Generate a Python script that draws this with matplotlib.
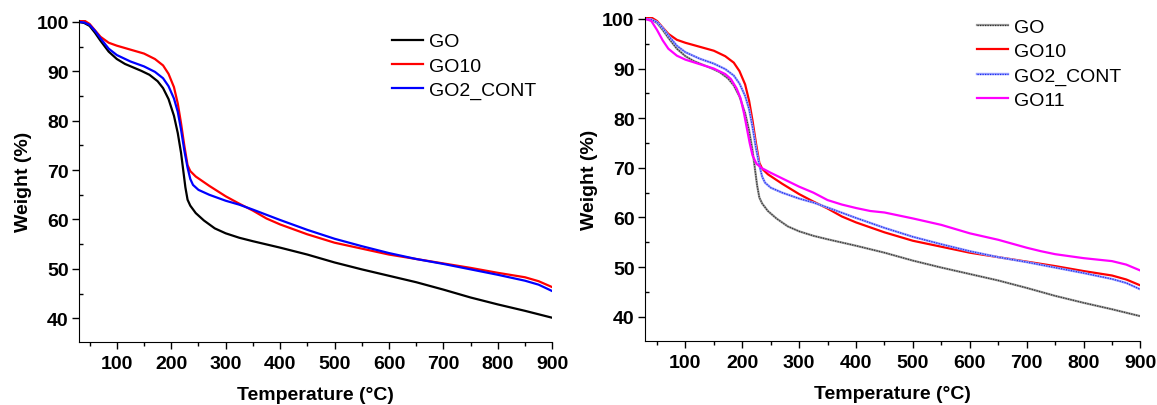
import matplotlib
matplotlib.use("Agg")
import matplotlib.pyplot as plt
from matplotlib.ticker import MultipleLocator, FixedLocator
from matplotlib.legend_handler import HandlerTuple

plt.rcParams['font.family'] = ['Liberation Sans', 'DejaVu Sans']

# ---- data ----
go_T = [30, 40, 50, 60, 70, 85, 100, 115, 130, 145, 160, 175, 185, 195, 205, 212, 218, 222, 226, 230, 235, 245, 260, 280, 300, 325, 350, 400, 450, 500, 550, 600, 650, 700, 750, 800, 850, 900]
go_W = [100, 99.8, 99.2, 97.8, 96.2, 94.0, 92.5, 91.5, 90.8, 90.1, 89.3, 88.0, 86.6, 84.4, 81.0, 77.5, 73.5, 70.0, 66.5, 64.0, 62.8, 61.3, 59.8, 58.2, 57.2, 56.3, 55.6, 54.3, 52.9, 51.3, 49.9, 48.6, 47.3, 45.8, 44.2, 42.8, 41.5, 40.1]

go10_T = [30, 40, 50, 60, 70, 85, 100, 125, 150, 170, 185, 195, 205, 212, 218, 224, 230, 235, 245, 270, 300, 325, 350, 375, 400, 450, 500, 550, 600, 650, 700, 750, 800, 850, 875, 900]
go10_W = [100.3, 100.3, 99.6, 98.3, 97.0, 95.8, 95.2, 94.4, 93.6, 92.5, 91.2, 89.5, 86.8, 83.5, 79.5, 75.0, 71.0, 69.8, 68.7, 66.8, 64.7, 63.2, 61.8, 60.2, 59.0, 57.0, 55.3, 54.1, 52.9, 52.0, 51.1, 50.2, 49.2, 48.3, 47.5, 46.3]

go2_T = [30, 40, 50, 60, 70, 85, 100, 125, 150, 170, 185, 195, 205, 212, 218, 224, 230, 235, 240, 250, 270, 300, 325, 350, 400, 450, 500, 550, 600, 650, 700, 750, 800, 850, 875, 900]
go2_W = [100, 99.9, 99.4, 98.2, 96.7, 94.6, 93.3, 92.0, 91.0, 89.9, 88.6, 87.0, 84.5, 81.8, 78.2, 74.0, 70.5, 68.2, 67.0, 66.0, 65.0, 63.8, 63.0, 62.0, 59.9, 57.9, 56.1, 54.6, 53.2, 52.0, 51.0, 49.9, 48.8, 47.6, 46.8, 45.5]

go11_T = [30, 40, 50, 60, 70, 85, 100, 125, 150, 170, 180, 190, 197, 203, 208, 213, 218, 225, 235, 250, 275, 300, 325, 350, 375, 400, 425, 450, 500, 550, 600, 650, 700, 725, 750, 800, 850, 875, 900]
go11_W = [100, 99.6, 97.8, 95.7, 94.0, 92.6, 91.8, 90.9, 90.0, 88.9, 87.9, 86.0, 84.0, 81.0, 78.0, 75.0, 72.5, 70.8, 69.9, 69.0, 67.6, 66.2, 65.0, 63.5, 62.6, 61.9, 61.3, 61.0, 59.8, 58.5, 56.8, 55.5, 53.9, 53.2, 52.6, 51.8, 51.2, 50.5, 49.3]

x_ticks = [100, 200, 300, 400, 500, 600, 700, 800, 900]
y_ticks = [40, 50, 60, 70, 80, 90, 100]

fig = plt.figure(figsize=(11.57, 4.06), dpi=100)
ax1 = fig.add_axes([0.0685, 0.1559, 0.4088, 0.7924])
ax2 = fig.add_axes([0.5575, 0.1576, 0.4282, 0.7981])

FS = 14

def style(ax, xmin, ymin):
    ax.set_xlim(xmin, 900)
    ax.set_ylim(ymin, 100.4)
    ax.spines['top'].set_visible(False)
    ax.spines['right'].set_visible(False)
    ax.xaxis.set_major_locator(FixedLocator(x_ticks))
    ax.xaxis.set_minor_locator(MultipleLocator(50))
    ax.yaxis.set_major_locator(FixedLocator(y_ticks))
    ax.yaxis.set_minor_locator(MultipleLocator(5))
    ax.tick_params(axis='x', which='major', direction='out', length=5, width=1, pad=4.5)
    ax.tick_params(axis='x', which='minor', direction='out', length=3, width=1)
    ax.tick_params(axis='y', which='major', direction='out', length=5, width=1, pad=2.5)
    ax.tick_params(axis='y', which='minor', direction='in', length=3, width=1)
    for lab in ax.get_xticklabels() + ax.get_yticklabels():
        lab.set_fontweight('bold')
        lab.set_fontsize(FS)
    ax.set_xlabel('Temperature (°C)', fontsize=FS, fontweight='bold', labelpad=10)
    ax.set_ylabel('Weight (%)', fontsize=FS, fontweight='bold', labelpad=3)

leg_kw = dict(frameon=False, fontsize=FS, handlelength=1.6, handletextpad=0.3,
              labelspacing=0.34, borderpad=0, borderaxespad=0)

# Left panel
ax1.plot(go_T, go_W, color='black', lw=1.6, label='GO')
ax1.plot(go10_T, go10_W, color='#ff0000', lw=1.6, label='GO10')
ax1.plot(go2_T, go2_W, color='#0000ff', lw=1.6, label='GO2_CONT')
style(ax1, 31, 35.25)
ax1.legend(loc='upper left', bbox_to_anchor=(0.3385, 0.917), bbox_transform=fig.transFigure, **leg_kw)

# Right panel
g1, = ax2.plot(go_T, go_W, color='#9a9a9a', lw=1.6)
g2, = ax2.plot(go_T, go_W, color='#333333', lw=0.9, ls=(0, (1, 1)))
r1, = ax2.plot(go10_T, go10_W, color='#ff0000', lw=1.6)
b1, = ax2.plot(go2_T, go2_W, color='#99a0ff', lw=1.7)
b2, = ax2.plot(go2_T, go2_W, color='#2030ee', lw=0.9, ls=(0, (1, 1)))
m1, = ax2.plot(go11_T, go11_W, color='#ff00ff', lw=1.6)
style(ax2, 29, 35.1)
ax2.legend([(g1, g2), r1, (b1, b2), m1], ['GO', 'GO10', 'GO2_CONT', 'GO11'],
           handler_map={tuple: HandlerTuple(ndivide=1, pad=0)},
           loc='upper left', bbox_to_anchor=(0.8447, 0.9525), bbox_transform=fig.transFigure, **leg_kw)

fig.savefig('out.png', dpi=100)
